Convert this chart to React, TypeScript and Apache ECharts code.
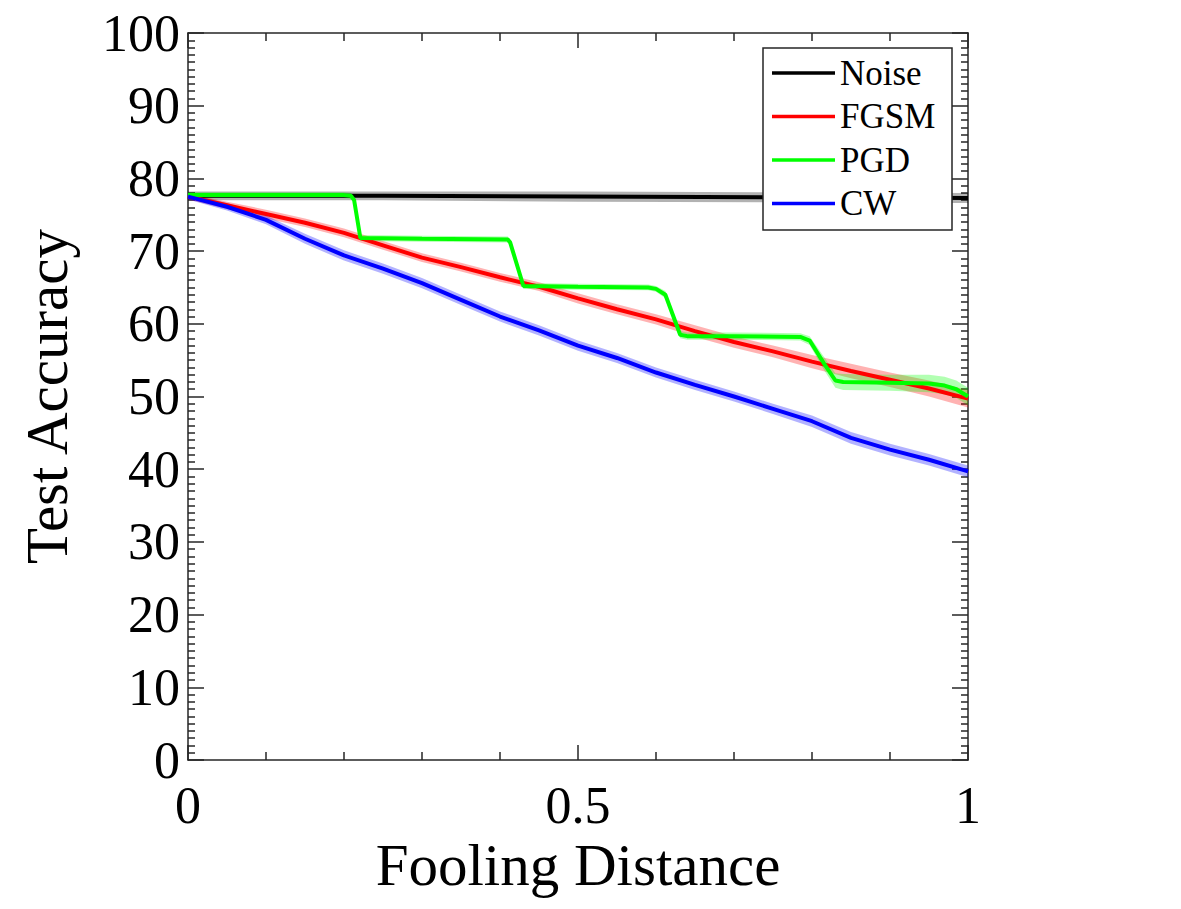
import React, { useEffect, useRef } from "react";
import * as echarts from "echarts";

// ---- data ----
const noiseX = [0, 0.25, 0.5, 0.75, 1.0];
const noiseY = [77.6, 77.6, 77.5, 77.4, 77.3];
const noiseSpread = [0.6, 0.6, 0.7, 0.7, 0.7];

const fgsmX = [0, 0.05, 0.1, 0.15, 0.2, 0.25, 0.3, 0.35, 0.4, 0.45, 0.5, 0.55, 0.6, 0.65, 0.7, 0.75, 0.8, 0.85, 0.9, 0.95, 1.0];
const fgsmY = [77.5, 76.3, 75.1, 73.9, 72.5, 70.8, 69.1, 67.8, 66.4, 65.1, 63.5, 62.0, 60.6, 59.0, 57.5, 56.2, 54.8, 53.5, 52.3, 51.1, 49.7];
const fgsmSpread = [0.4, 0.5, 0.6, 0.6, 0.6, 0.6, 0.6, 0.6, 0.6, 0.6, 0.7, 0.7, 0.7, 0.8, 0.8, 0.8, 0.9, 1.0, 1.0, 1.1, 1.2];

const pgdX = [0, 0.1, 0.2, 0.209, 0.213, 0.221, 0.3, 0.41, 0.413, 0.43, 0.5, 0.59, 0.6, 0.612, 0.631, 0.64, 0.7, 0.785, 0.797, 0.815, 0.83, 0.84, 0.9, 0.95, 0.97, 0.985, 1.0];
const pgdY = [77.7, 77.7, 77.7, 77.6, 77.0, 71.8, 71.7, 71.6, 71.2, 65.2, 65.1, 65.0, 64.8, 64.0, 58.5, 58.3, 58.3, 58.2, 57.7, 54.6, 52.2, 52.0, 51.9, 51.8, 51.5, 51.0, 50.0];
const pgdSpread = [0.4, 0.4, 0.4, 0.4, 0.4, 0.4, 0.4, 0.4, 0.4, 0.4, 0.4, 0.4, 0.4, 0.5, 0.5, 0.5, 0.5, 0.5, 0.6, 0.9, 1.0, 1.1, 1.1, 1.2, 1.2, 1.2, 1.2];

const cwX = [0, 0.05, 0.1, 0.15, 0.2, 0.25, 0.3, 0.35, 0.4, 0.45, 0.5, 0.55, 0.6, 0.65, 0.7, 0.75, 0.8, 0.85, 0.9, 0.95, 1.0];
const cwY = [77.5, 76.1, 74.3, 71.7, 69.4, 67.6, 65.6, 63.3, 61.0, 59.1, 57.0, 55.3, 53.3, 51.6, 50.0, 48.3, 46.6, 44.3, 42.7, 41.3, 39.7];
const cwSpread = [0.4, 0.5, 0.6, 0.7, 0.7, 0.7, 0.7, 0.7, 0.7, 0.7, 0.7, 0.7, 0.7, 0.7, 0.7, 0.7, 0.8, 0.8, 0.8, 0.8, 0.8];

const seriesNames = ["Noise", "FGSM", "PGD", "CW"];
const seriesColors = ["#000000", "#ff0000", "#00ff00", "#0000ff"];
const bandColors = ["rgba(0,0,0,0.3)", "rgba(255,0,0,0.3)", "rgba(0,255,0,0.3)", "rgba(0,0,255,0.3)"];

const xTicks = [0, 0.5, 1];
const yMin = 0;
const yMax = 100;
const yInterval = 10;
const xTitle = "Fooling Distance";
const yTitle = "Test Accuracy";

const FONT = "'Liberation Serif', 'DejaVu Serif', serif";

function pairs(xs: number[], ys: number[]) {
  return xs.map((x, i) => [x, ys[i]]);
}

function bandSeries(xs: number[], ys: number[], sp: number[], color: string) {
  return {
    type: "custom",
    silent: true,
    z: 1,
    data: [[xs[0], ys[0]]],
    renderItem: (params: any, api: any) => {
      const upper = xs.map((x, i) => api.coord([x, ys[i] + sp[i]]));
      const lower = xs.map((x, i) => api.coord([x, ys[i] - sp[i]])).reverse();
      return {
        type: "polygon",
        shape: { points: upper.concat(lower) },
        style: { fill: color, stroke: null },
      };
    },
  };
}

export default function App() {
  const ref = useRef<HTMLDivElement>(null);
  useEffect(() => {
    document.body.style.margin = "0";
    const chart = echarts.init(ref.current!, null, { renderer: "svg" });
    const sets = [
      [noiseX, noiseY, noiseSpread],
      [fgsmX, fgsmY, fgsmSpread],
      [pgdX, pgdY, pgdSpread],
      [cwX, cwY, cwSpread],
    ] as number[][][];

    const bands = sets.map((s, i) => bandSeries(s[0], s[1], s[2], bandColors[i]));
    const lines = sets.map((s, i) => ({
      type: "line",
      name: seriesNames[i],
      data: pairs(s[0], s[1]),
      symbol: "none",
      showSymbol: false,
      z: 2,
      lineStyle: { color: seriesColors[i], width: 4 },
      itemStyle: { color: seriesColors[i] },
    }));

    const axisLine = { show: true, onZero: false, lineStyle: { color: "#262626", width: 1.5 } };
    const xCommon = {
      type: "value",
      min: 0,
      max: 1,
      interval: 0.5,
      splitLine: { show: false },
      axisLine,
      axisTick: { show: true, inside: true, length: 15, lineStyle: { color: "#262626", width: 1.5 } },
      minorTick: { show: true, splitNumber: 5, length: 8, lineStyle: { color: "#262626", width: 1.5 } },
      minorSplitLine: { show: false },
    };
    const yCommon = {
      type: "value",
      min: yMin,
      max: yMax,
      interval: yInterval,
      splitLine: { show: false },
      axisLine,
      axisTick: { show: true, inside: true, length: 16, lineStyle: { color: "#262626", width: 1.5 } },
      minorTick: { show: true, splitNumber: 10, length: 7, lineStyle: { color: "#262626", width: 1.5 } },
      minorSplitLine: { show: false },
    };

    chart.setOption({
      animation: false,
      backgroundColor: "#ffffff",
      grid: { left: 188, right: 213, top: 33, bottom: 149, containLabel: false },
      legend: {
        data: seriesNames,
        orient: "vertical",
        left: 772,
        top: 55,
        padding: 0,
        itemWidth: 63,
        itemHeight: 14,
        itemGap: 7.5,
        icon: "path://M0,0 L63,0 L63,3.5 L0,3.5 Z",
        textStyle: { fontFamily: FONT, fontSize: 35, lineHeight: 36, color: "#000" },
        z: 4,
      },
      graphic: [
        {
          type: "rect",
          z: 3,
          shape: { x: 763, y: 48, width: 189, height: 182 },
          style: { fill: "#ffffff", stroke: "#262626", lineWidth: 1.5 },
          silent: true,
        },
      ],
      xAxis: [
        {
          ...xCommon,
          position: "bottom",
          name: xTitle,
          nameLocation: "middle",
          nameGap: 72,
          nameTextStyle: { fontFamily: FONT, fontSize: 59, color: "#000" },
          axisLabel: {
            show: true,
            margin: 19,
            fontFamily: FONT,
            fontSize: 52,
            color: "#000",
            customValues: xTicks,
            formatter: (v: number) => String(v),
          },
        },
        { ...xCommon, position: "top", axisLabel: { show: false } },
      ],
      yAxis: [
        {
          ...yCommon,
          position: "left",
          name: yTitle,
          nameLocation: "middle",
          nameGap: 112,
          nameTextStyle: { fontFamily: FONT, fontSize: 59, color: "#000" },
          axisLabel: { show: true, margin: 8, fontFamily: FONT, fontSize: 52, color: "#000" },
        },
        { ...yCommon, position: "right", axisLabel: { show: false } },
      ],
      series: [...bands, ...lines],
    });
    return () => chart.dispose();
  }, []);
  return <div ref={ref} style={{ width: 1181, height: 909 }} />;
}
